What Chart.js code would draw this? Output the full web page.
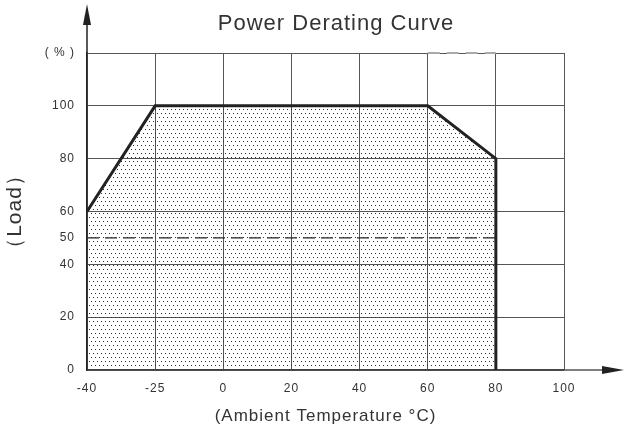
<!DOCTYPE html>
<html>
<head>
<meta charset="utf-8">
<script src="https://cdn.jsdelivr.net/npm/chart.js@4.4.1/dist/chart.umd.min.js"></script>
<style>
  html, body { margin: 0; padding: 0; background: #fff; }
  #chart { display: block; }
</style>
</head>
<body>
<canvas id="chart" width="624" height="433"></canvas>
<script>
// x axis is a category axis: the temperatures are evenly spaced, not to scale
var xLabels = ['-40', '-25', '0', '20', '40', '60', '80', '100'];
var yTicks = [0, 20, 40, 50, 60, 80, 100, 120];
var yTickLabels = ['0', '20', '40', '50', '60', '80', '100', '( % )'];

// derating curve: temperature label / load %
var curveTemps = ['-40', '-25', '60', '80', '80'];
var curveLoads = [60, 100, 100, 80, 0];

// 50% reference line
var halfTemps = ['-40', '80'];
var halfLoads = [50, 50];

// faint dashes on the top border
var topTemps = ['60', '80'];
var topLoads = [120, 120];

var titleText = 'Power Derating Curve';
var FONT = '"Liberation Sans", Arial, sans-serif';

function toPoints(xs, ys) {
  var pts = [];
  for (var i = 0; i < xs.length; i++) {
    pts.push({ x: xs[i], y: ys[i] });
  }
  return pts;
}

// dotted fill, staggered rows
var dotCanvas = document.createElement('canvas');
dotCanvas.width = 4;
dotCanvas.height = 8;
var dctx = dotCanvas.getContext('2d');
dctx.fillStyle = '#333';
dctx.fillRect(1, 1, 1, 1);
dctx.fillRect(3, 5, 1, 1);

var ctx = document.getElementById('chart').getContext('2d');
var dots = ctx.createPattern(dotCanvas, 'repeat');

// arrows on the axes + title, letter spacing for all text
var decor = {
  id: 'decor',
  beforeDraw: function(chart) {
    chart.ctx.letterSpacing = '1px';
  },
  afterDraw: function(chart) {
    var c = chart.ctx;
    var a = chart.chartArea;
    c.save();
    c.lineWidth = 1.5;
    c.strokeStyle = '#222';
    c.fillStyle = '#222';
    c.beginPath();
    c.moveTo(a.left, a.top);
    c.lineTo(a.left, 22);
    c.stroke();
    c.beginPath();
    c.moveTo(a.left, 4);
    c.lineTo(a.left - 4, 25);
    c.lineTo(a.left + 4, 25);
    c.closePath();
    c.fill();

    c.strokeStyle = '#555';
    c.beginPath();
    c.moveTo(a.right, a.bottom);
    c.lineTo(chart.width - 18, a.bottom);
    c.stroke();
    c.fillStyle = '#222';
    c.beginPath();
    c.moveTo(chart.width, a.bottom);
    c.lineTo(chart.width - 22, a.bottom - 4);
    c.lineTo(chart.width - 22, a.bottom + 4);
    c.closePath();
    c.fill();

    c.font = '22px ' + FONT;
    c.letterSpacing = '1px';
    c.textAlign = 'center';
    c.textBaseline = 'middle';
    c.fillStyle = '#333';
    c.fillText(titleText, 336, 24);
    c.restore();
  }
};

var chart = new Chart(ctx, {
  type: 'line',
  data: {
    labels: xLabels,
    datasets: [{
        label: 'curve',
        data: toPoints(curveTemps, curveLoads),
        borderColor: '#222',
        borderWidth: 3,
        backgroundColor: dots,
        fill: 'origin',
        pointRadius: 0,
        tension: 0
      },
      {
        label: '50%',
        data: toPoints(halfTemps, halfLoads),
        borderColor: '#222',
        borderWidth: 1.2,
        borderDash: [12, 6],
        fill: false,
        pointRadius: 0
      },
      {
        label: 'top',
        data: toPoints(topTemps, topLoads),
        borderColor: '#aaa',
        borderWidth: 2,
        borderDash: [12, 7],
        fill: false,
        pointRadius: 0,
        clip: 4
      }
    ]
  },
  options: {
    responsive: false,
    animation: false,
    layout: {
      padding: { top: 53, right: 60, bottom: 0, left: 0 }
    },
    plugins: {
      legend: { display: false },
      tooltip: { enabled: false },
      title: { display: false }
    },
    scales: {
      x: {
        type: 'category',
        offset: false,
        afterFit: function(s) { s.height = 63; },
        grid: {
          offset: false,
          color: '#555',
          lineWidth: 1,
          drawTicks: false
        },
        border: { color: '#444', width: 1.5 },
        ticks: {
          padding: 11,
          maxRotation: 0,
          autoSkip: false,
          color: '#333',
          font: { family: FONT, size: 12 }
        },
        title: {
          display: true,
          text: '(Ambient Temperature °C)',
          color: '#333',
          font: { family: FONT, size: 17 },
          padding: { top: 0, bottom: 6 }
        }
      },
      y: {
        min: 0,
        max: 120,
        afterFit: function(s) { s.width = 87; },
        afterBuildTicks: function(s) {
          s.ticks = yTicks.map(function(v) { return { value: v }; });
        },
        grid: {
          color: function(c) {
            return c.tick && c.tick.value === 50 ? 'rgba(0,0,0,0)' : '#555';
          },
          lineWidth: 1,
          drawTicks: false
        },
        border: { color: '#222', width: 1.5 },
        ticks: {
          padding: 12,
          color: '#333',
          font: { family: FONT, size: 12 },
          callback: function(v, i) { return yTickLabels[i]; }
        },
        title: {
          display: true,
          text: '（Load）',
          color: '#333',
          font: { family: FONT, size: 21 },
          padding: { top: 3, bottom: 0 }
        }
      }
    }
  },
  plugins: [decor]
});
</script>
</body>
</html>
